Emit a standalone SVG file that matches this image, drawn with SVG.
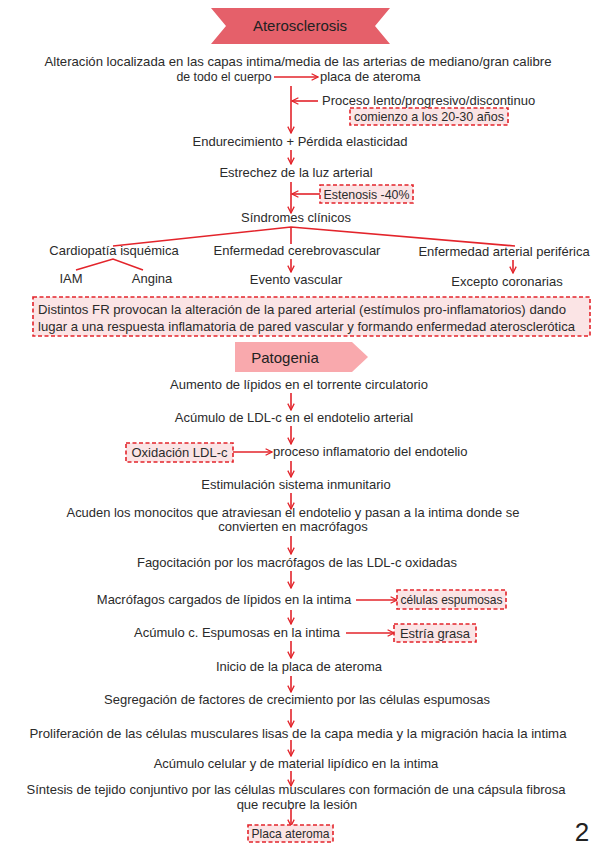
<svg xmlns="http://www.w3.org/2000/svg" width="599" height="848" viewBox="0 0 599 848">
<defs>
<marker id="ah" viewBox="0 0 10 10" refX="9" refY="5" markerWidth="8" markerHeight="8" orient="auto" markerUnits="userSpaceOnUse">
<path d="M1,1 L9,5 L1,9" fill="none" stroke="#e3242b" stroke-width="1.6"/>
</marker>
</defs>
<style>
.t{font-family:"Liberation Sans",Arial,sans-serif;font-size:13px;fill:#2b2b2b;text-anchor:middle}
.s{text-anchor:start}
.c{stroke:#e3242b;stroke-width:1.6;fill:none}
.a{stroke:#e3242b;stroke-width:1.6;fill:none;marker-end:url(#ah)}
.box{fill:#fbe4e5;stroke:#e3242b;stroke-width:1.6;stroke-dasharray:4 2.5}
.ban{font-family:"Liberation Sans Narrow","Liberation Sans",sans-serif;font-size:15px;fill:#222;text-anchor:middle}
</style>
<rect width="599" height="848" fill="#ffffff"/>

<g id="connectors">
<line class="a" x1="274" y1="77" x2="318" y2="77"/>
<line class="a" x1="291" y1="86" x2="291" y2="133"/>
<line class="a" x1="318" y1="101" x2="292" y2="101"/>
<line class="a" x1="291" y1="150" x2="291" y2="164"/>
<line class="a" x1="291" y1="182" x2="291" y2="213"/>
<line class="a" x1="320" y1="194" x2="292" y2="194"/>
<polyline class="c" points="113,246 291,227 515,246"/>
<line class="c" x1="291" y1="227" x2="291" y2="244"/>
<polyline class="c" points="76,270 113,259 143,270"/>
<line class="a" x1="291" y1="259" x2="291" y2="272"/>
<line class="a" x1="513" y1="260" x2="513" y2="273"/>
<line class="a" x1="291" y1="393" x2="291" y2="410"/>
<line class="a" x1="291" y1="426" x2="291" y2="444"/>
<line class="a" x1="233" y1="452" x2="272" y2="452"/>
<line class="a" x1="291" y1="461" x2="291" y2="477"/>
<line class="a" x1="291" y1="493" x2="291" y2="509"/>
<line class="a" x1="291" y1="536" x2="291" y2="554"/>
<line class="a" x1="291" y1="571" x2="291" y2="588"/>
<line class="a" x1="356" y1="600" x2="397" y2="600"/>
<line class="a" x1="291" y1="610" x2="291" y2="624"/>
<line class="a" x1="346" y1="633" x2="394" y2="633"/>
<line class="a" x1="291" y1="641" x2="291" y2="658"/>
<line class="a" x1="291" y1="676" x2="291" y2="692"/>
<line class="a" x1="291" y1="709" x2="291" y2="727"/>
<line class="a" x1="291" y1="740" x2="291" y2="756"/>
<line class="a" x1="291" y1="771" x2="291" y2="786"/>
<line class="a" x1="291" y1="808" x2="291" y2="826"/>
</g>

<g id="title">
<polygon points="211,8 390,8 375,26 390,44 211,44 226,26" fill="#e5606a"/>
<text class="ban" x="300" y="31">Aterosclerosis</text>
</g>

<g id="n-alteracion">
<text class="t" x="298" y="66" textLength="507" lengthAdjust="spacingAndGlyphs">Alteración localizada en las capas intima/media de las arterias de mediano/gran calibre</text>
<text class="t" x="224" y="81" style="font-size:12.3px">de todo el cuerpo</text>
</g>
<g id="n-placa1"><text class="t s" x="320" y="81">placa de ateroma</text></g>
<g id="n-proceso"><text class="t s" x="322" y="105">Proceso lento/progresivo/discontinuo</text></g>
<g id="n-comienzo">
<rect class="box" x="350" y="108" width="158" height="17"/>
<text class="t" x="429" y="121" textLength="150" lengthAdjust="spacingAndGlyphs">comienzo a los 20-30 años</text>
</g>
<g id="n-endurecimiento"><text class="t" x="300" y="146">Endurecimiento + Pérdida elasticidad</text></g>
<g id="n-estrechez"><text class="t" x="296" y="177">Estrechez de la luz arterial</text></g>
<g id="n-estenosis">
<rect class="box" x="320" y="185" width="93" height="18"/>
<text class="t" x="366.5" y="198.5" textLength="86" lengthAdjust="spacingAndGlyphs">Estenosis -40%</text>
</g>
<g id="n-sindromes"><text class="t" x="296" y="222">Síndromes clínicos</text></g>
<g id="n-cardiopatia"><text class="t" x="114" y="255">Cardiopatía isquémica</text></g>
<g id="n-cerebro"><text class="t" x="297" y="255">Enfermedad cerebrovascular</text></g>
<g id="n-periferica"><text class="t" x="504" y="256">Enfermedad arterial periférica</text></g>
<g id="n-iam"><text class="t" x="71" y="283">IAM</text></g>
<g id="n-angina"><text class="t" x="152" y="283">Angina</text></g>
<g id="n-evento"><text class="t" x="296" y="284">Evento vascular</text></g>
<g id="n-excepto"><text class="t" x="507" y="286">Excepto coronarias</text></g>
<g id="n-fr">
<rect class="box" x="33" y="297" width="557" height="39"/>
<text class="t s" x="38" y="314" textLength="528" lengthAdjust="spacingAndGlyphs">Distintos FR provocan la alteración de la pared arterial (estímulos pro-inflamatorios) dando</text>
<text class="t s" x="38" y="331" textLength="537" lengthAdjust="spacingAndGlyphs">lugar a una respuesta inflamatoria de pared vascular y formando enfermedad aterosclerótica</text>
</g>

<g id="patogenia">
<polygon points="235,342 352,342 368,357 352,372 235,372" fill="#f9a9ad"/>
<text class="ban" x="285" y="363">Patogenia</text>
</g>

<g id="p-aumento"><text class="t" x="299" y="389">Aumento de lípidos en el torrente circulatorio</text></g>
<g id="p-acumulo"><text class="t" x="294" y="422">Acúmulo de LDL-c en el endotelio arterial</text></g>
<g id="p-oxidacion">
<rect class="box" x="126" y="443" width="107" height="19"/>
<text class="t" x="179.5" y="457">Oxidación LDL-c</text>
</g>
<g id="p-proceso"><text class="t s" x="273" y="456">proceso inflamatorio del endotelio</text></g>
<g id="p-estimulacion"><text class="t" x="296" y="489">Estimulación sistema inmunitario</text></g>
<g id="p-monocitos">
<text class="t" x="293" y="517" textLength="453" lengthAdjust="spacingAndGlyphs">Acuden los monocitos que atraviesan el endotelio y pasan a la intima donde se</text>
<text class="t" x="293" y="531">convierten en macrófagos</text>
</g>
<g id="p-fagocitacion"><text class="t" x="297" y="567">Fagocitación por los macrófagos de las LDL-c oxidadas</text></g>
<g id="p-macrofagos"><text class="t" x="224" y="604">Macrófagos cargados de lípidos en la intima</text></g>
<g id="p-espumosas">
<rect class="box" x="397" y="590" width="109" height="19"/>
<text class="t" x="451.5" y="604" textLength="102" lengthAdjust="spacingAndGlyphs">células espumosas</text>
</g>
<g id="p-acumuloc"><text class="t" x="237" y="637">Acúmulo c. Espumosas en la intima</text></g>
<g id="p-estria">
<rect class="box" x="394" y="624" width="82" height="18"/>
<text class="t" x="435" y="637.5">Estría grasa</text>
</g>
<g id="p-inicio"><text class="t" x="299" y="671">Inicio de la placa de ateroma</text></g>
<g id="p-segregacion"><text class="t" x="297" y="704">Segregación de factores de crecimiento por las células espumosas</text></g>
<g id="p-proliferacion"><text class="t" x="298" y="738" textLength="537" lengthAdjust="spacingAndGlyphs">Proliferación de las células musculares lisas de la capa media y la migración hacia la intima</text></g>
<g id="p-acumulocel"><text class="t" x="296" y="768">Acúmulo celular y de material lipídico en la intima</text></g>
<g id="p-sintesis">
<text class="t" x="296" y="794" textLength="539" lengthAdjust="spacingAndGlyphs">Síntesis de tejido conjuntivo por las células musculares con formación de una cápsula fibrosa</text>
<text class="t" x="297" y="809">que recubre la lesión</text>
</g>
<g id="p-placa">
<rect class="box" x="248" y="825" width="85" height="17"/>
<text class="t" x="290.5" y="838" textLength="78" lengthAdjust="spacingAndGlyphs">Placa ateroma</text>
</g>
<text x="582" y="841" font-family="Liberation Sans,sans-serif" font-size="26" fill="#222" text-anchor="middle">2</text>
</svg>
